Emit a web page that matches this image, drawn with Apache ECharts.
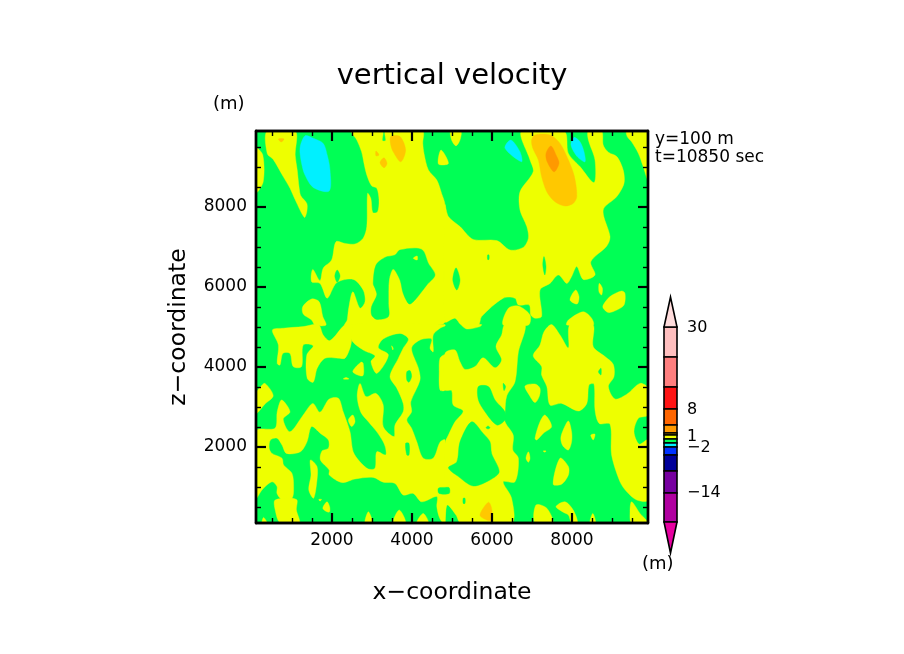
<!DOCTYPE html>
<html>
<head>
<meta charset="utf-8">
<style>html,body{margin:0;padding:0;background:#fff}#c{width:904px;height:654px}</style>
<script src="https://cdn.jsdelivr.net/npm/echarts@6/dist/echarts.min.js"></script>
</head>
<body>
<div id="c"></div>
<script>
// contour regions: each is a ring of [x, z] in metres
const yellowAreas = [
 [[100,9470],[270,9300],[280,8630],[100,8360]],
 [[380,9900],[380,9340],[530,9190],[780,8760],[950,8470],[1080,8180],[1310,7740],[1370,7880],[1370,8090],[1220,8280],[1180,8470],[1130,8930],[1080,9300],[1080,9900]],
 [[2490,9900],[2620,9675],[2740,9380],[2800,9090],[2870,8800],[2990,8530],[3120,8470],[3175,8175],[3140,7880],[3020,7860],[2970,8220],[2890,8340],[2870,7510],[2780,7220],[2575,7075],[2325,7090],[2100,7130],[1990,6675],[1780,6470],[1700,6160],[1520,6440],[1490,6130],[1700,6090],[1880,5720],[2120,6110],[2530,6190],[2780,5925],[2825,5630],[2700,5470],[2520,5880],[2410,5425],[2380,5175],[2325,5050],[4617,5050],[4825,5133],[4825,8050],[4740,8340],[4620,8675],[4410,8925],[4300,9340],[4270,9590],[4260,9900],[3340,9900],[3340,9660],[3260,9660],[3260,9900]],
 [[1270,5510],[1490,5700],[1680,5630],[1770,5260],[1850,5050],[1575,5050],[1490,5175],[1280,5325]],
 [[4725,9425],[4910,9090],[4660,9075]],
 [[4825,8050],[4910,7760],[5200,7510],[5530,7190],[6120,7160],[6450,6925],[6780,6990],[6910,7220],[6870,7510],[6700,7925],[6700,8380],[7030,8880],[6950,9175],[6740,9900],[7800,9900],[7910,9340],[8200,9010],[8550,8610],[8575,9175],[8410,9675],[8410,9900],[8740,9900],[8780,9550],[8910,9370],[9120,9260],[9280,8925],[9300,8590],[9120,8260],[8780,7925],[8950,7260],[8870,7025],[8470,6630],[8575,6300],[8280,6190],[8120,6510],[7990,6260],[7870,6090],[7660,6300],[7450,6090],[7200,5925],[7240,5260],[7075,5220],[6970,5300],[6930,5550],[6660,5550],[6575,5720],[6280,5720],[5740,5260],[5660,5050],[5240,5050],[5075,5220],[4825,5133]],
 [[6410,5470],[6660,5525],[6950,5300],[6910,5050],[6280,5050]],
 [[4970,9900],[5220,9900],[5200,9675],[5100,9530],[4990,9675]],
 [[9370,9900],[9900,9900],[9900,8675],[9780,9010],[9660,9340],[9490,9630],[9380,9760]],
 [[7950,5675],[8090,5925],[8175,5760],[8130,5575]],
 [[8680,6090],[8760,5970],[8740,5800],[8675,5880]],
 [[8780,5550],[8950,5760],[9240,5900],[9325,5840],[9300,5550],[9120,5425],[8910,5360],[8780,5470]],
 [[7910,5175],[8280,5380],[8490,5220],[8530,5050],[7870,5050]],
 [[2490,5060],[2490,4675],[2780,4425],[3075,4280],[2975,4130],[3120,3840],[3410,4300],[3160,4480],[3280,4700],[3700,4840],[3910,4700],[3780,4470],[3660,4220],[3450,3760],[3620,3470],[3780,3090],[3780,2880],[3575,2550],[3550,2260],[3280,2510],[3280,3050],[3100,3340],[2850,3260],[2700,3590],[2630,3260],[2720,2870],[2910,2630],[3120,2380],[3280,2130],[3340,1970],[3340,1800],[3120,1880],[3075,1470],[2910,1450],[2700,1630],[2530,1880],[2450,2380],[2280,2880],[2160,3220],[1930,3200],[1700,2870],[1520,3090],[1280,2800],[950,2380],[780,2700],[950,2880],[740,3175],[630,2880],[575,2470],[100,2400],[100,720],[250,925],[500,1130],[625,1010],[625,840],[750,690],[1000,720],[1040,1010],[1000,1340],[790,1550],[750,1720],[500,1840],[430,1970],[460,2175],[625,2220],[750,2050],[860,1840],[1210,1880],[1375,2130],[1490,2510],[1710,2340],[1910,2175],[1910,1970],[1750,1900],[1710,1675],[1930,1425],[1930,1300],[2250,1110],[2575,1200],[3030,1240],[3280,1120],[3575,1090],[3780,800],[4030,840],[4240,630],[4620,760],[4620,510],[4675,260],[4770,100],[4825,100],[4825,2175],[4700,2120],[4530,1720],[4280,1720],[4120,2130],[3990,2470],[3870,2675],[3990,2880],[3970,3130],[4200,3675],[4160,3970],[3990,4470],[4200,4675],[4490,4700],[4450,4470],[4530,4380],[4530,4800],[4700,4970],[4825,5025],[4825,5060]],
 [[510,4925],[780,4970],[1280,5010],[1660,5060],[1780,4800],[1950,4660],[2325,5060],[2490,5060],[2490,4675],[2450,4470],[2325,4220],[2160,4220],[1825,4220],[1630,3970],[1530,3620],[1380,3720],[1370,4300],[1530,4530],[1280,4550],[1240,4010],[1030,4010],[950,4340],[770,4340],[700,4050],[630,4090],[660,4550]],
 [[100,3340],[220,3510],[325,3590],[530,3280],[325,3075],[100,2840]],
 [[4700,4220],[4825,4300],[4825,3425],[4700,3425],[4680,3880]],
 [[4825,4340],[5075,4425],[5200,4130],[5325,3940],[5575,4010],[5780,4230],[6075,3980],[6240,4175],[6100,4510],[6240,4800],[6325,5060],[6825,5060],[6660,4380],[6575,3630],[6370,3280],[6325,2880],[6325,2630],[6530,2300],[6520,1925],[6660,1720],[6575,1130],[6280,1130],[6490,720],[6490,100],[5220,100],[5100,300],[4880,550],[4825,100],[4825,2090],[4910,2300],[5075,2630],[5280,2900],[5030,3050],[4990,3410],[4825,3425]],
 [[7030,4280],[7200,4550],[7300,4880],[7490,5060],[7700,4800],[7910,4480],[7950,5060],[8520,5060],[8530,4510],[8825,4260],[9030,4070],[9050,3760],[8910,3510],[9075,3200],[9370,3320],[9700,3590],[9900,3470],[9900,2800],[9660,2720],[9550,2380],[9680,2070],[9900,2175],[9900,675],[9620,675],[9370,880],[9200,1130],[8990,1800],[8950,2570],[8680,2590],[8575,2925],[8550,3570],[8425,3550],[8370,3090],[8160,2900],[7740,3090],[7450,3050],[7370,3510],[7240,3800],[7240,4010]],
 [[5240,5060],[5370,4950],[5700,5010],[5740,5060]]
];
const greenIslands = [
 [[3030,6090],[3100,6550],[3325,6740],[3575,6800],[3700,6925],[4240,6940],[4410,6590],[4575,6300],[4370,6050],[4075,5675],[3930,5575],[3780,5840],[3700,6175],[3530,6450],[3425,6175],[3410,5590],[3410,5260],[3120,5190],[2990,5300],[2990,5510],[3120,5800],[3075,5970]],
 [[2130,6425],[2200,6275],[2130,6120],[2070,6275]],
 [[7300,6760],[7350,6510],[7320,6300],[7270,6550]],
 [[5100,6480],[5200,6175],[5120,5925],[5020,6175]],
 [[5890,6800],[5925,6800],[5925,6690],[5890,6690]],
 [[3870,3880],[3950,3910],[3990,3760],[3925,3620],[3870,3675]],
 [[3840,2090],[3925,2090],[3925,1800],[3870,1800]],
 [[4660,970],[4825,990],[4930,980],[4930,840],[4675,840]],
 [[5490,2630],[5780,2340],[5950,2130],[5990,1840],[6180,1380],[5950,1175],[5530,1025],[5160,1260],[4910,1480],[5120,1630],[5200,2130]],
 [[5660,3510],[5910,3510],[6075,3175],[6325,2880],[6325,2675],[6120,2550],[5825,2880],[5660,3175]],
 [[6280,3590],[6340,3510],[6300,3410]],
 [[5850,2480],[5900,2525],[5950,2480],[5900,2450]],
 [[5280,720],[5325,720],[5325,590],[5280,590]],
 [[8660,3880],[8725,3970],[8725,3800]]
];
const yellowSpots = [
 [[4030,6720],[4130,6775],[4130,6675]],
 [[2520,3880],[2720,4120],[2780,4090],[2770,3780]],
 [[2280,3700],[2425,3700],[2350,3740]],
 [[2410,2675],[2520,2800],[2575,2630],[2490,2510]],
 [[3490,4530],[3530,4470],[3520,4425]],
 [[1460,1675],[1625,1510],[1625,1175],[1540,720],[1420,925],[1475,1300]],
 [[1670,690],[1740,690],[1700,650]],
 [[1770,470],[1875,630],[1940,510],[1940,380],[1875,380]],
 [[250,100],[290,240],[375,100]],
 [[580,675],[1110,690],[1110,425],[1180,100],[710,100],[580,425]],
 [[2825,100],[2910,380],[3010,100]],
 [[3530,100],[3680,425],[3840,100]],
 [[4120,100],[4280,340],[4410,100]],
 [[6825,3525],[7075,3575],[7200,3470],[7180,3260],[7075,3110],[6930,3300]],
 [[7075,2220],[7200,2630],[7325,2800],[7490,2510],[7280,2340],[7120,2175]],
 [[7720,2220],[7780,2425],[7910,2650],[7990,2380],[7990,2130],[7910,1925],[7770,2030]],
 [[8470,2300],[8575,2320],[8530,2175]],
 [[7280,1900],[7350,1900],[7320,1870]],
 [[6850,1720],[6910,1880],[6950,1720],[6910,1620]],
 [[7530,1070],[7700,1720],[7910,1510],[7910,1300],[7740,1070]],
 [[7075,100],[7100,550],[7370,470],[7520,100]],
 [[7600,510],[7825,630],[8030,425],[8140,100],[7990,100],[7910,300],[7780,370]],
 [[8450,100],[8520,340],[8590,100]],
 [[9450,380],[9490,630],[9700,340],[9900,100],[9490,100]]
];
const cyanAreas = [
 [[1200,9470],[1325,9780],[1530,9720],[1780,9590],[1880,9300],[1950,8925],[1930,8400],[1530,8490],[1325,8800],[1240,9090]],
 [[6470,9675],[6700,9380],[6740,9130],[6325,9470]],
 [[7975,9550],[8050,9740],[8200,9630],[8300,9380],[8325,9130],[8130,9260]]
];
const lightOrangeAreas = [
 [[660,9700],[800,9700],[730,9625]],
 [[3470,9760],[3700,9760],[3840,9425],[3720,9130],[3530,9380],[3470,9550]],
 [[3100,9400],[3175,9300],[3100,9280]],
 [[3300,9230],[3375,9090],[3300,8980],[3200,9110]],
 [[6990,9675],[7075,9800],[7450,9800],[7700,9590],[7910,9175],[8060,8760],[8120,8260],[8030,8090],[7825,8025],[7575,8130],[7370,8380],[7240,8760],[7160,9175],[7020,9470]],
 [[5700,300],[5910,620],[5990,470],[5990,175],[5870,175]]
];
const orangeAreas = [
 [[7475,9525],[7620,9260],[7675,9090],[7550,8880],[7380,9130],[7350,9340]]
];
// axis ticks
const majorTicks = [2000,4000,6000,8000];
const minorTicks = [500,1000,1500,2500,3000,3500,4500,5000,5500,6500,7000,7500,8500,9000,9500];
// colour bar: band edges along the bar, top to bottom, with their colours
const barEdges = [30,60,90,112,128,136,138,142,146,150,158,174,196,225];
const barColors = ['#ffbfbf','#ff7f7f','#ff1414','#ff6600','#ff9900','#ffc800','#eeff00','#00ff55','#00f0ff','#0033ff','#000099','#7700a0','#b000a0'];
const barLabelPositions = [31,113,140,151,196];
const barLabels = ['30','8','1','\u22122','\u221214'];

const font = 'DejaVu Sans';
const regionSeries = (name, layer, color) => ({
  type:'custom', name, xAxisIndex:0, yAxisIndex:0, silent:true, animation:false, z:2, clip:true,
  data: layer.map((_, i) => [i, 0]),
  renderItem: (params, api) => ({
    type:'polygon',
    shape:{points: layer[params.dataIndex].map(p => api.coord(p)), smooth:0.3},
    style:{fill:color, stroke:color, lineWidth:0.4}
  })
});
const frameAxis = (dim, pos, vals, len, w, extra) => Object.assign({
  type:'value', min:100, max:9900, position:pos, gridIndex:0, z:10,
  splitLine:{show:false},
  axisLine:{show:true, onZero:false, lineStyle:{color:'#000', width:2.4}},
  axisTick:{show:true, inside:true, length:len, customValues:vals, lineStyle:{color:'#000', width:w}},
  axisLabel:{show:false}
}, extra || {});
const tickLabels = {show:true, customValues:majorTicks, formatter:v => String(v), color:'#000', fontFamily:font, fontSize:17};

const chart = echarts.init(document.getElementById('c'), null, {renderer:'canvas'});
chart.setOption({
  animation:false,
  backgroundColor:'#fff',
  title:{text:'vertical velocity', left:'center', top:57, textStyle:{fontFamily:font, fontWeight:'normal', fontSize:29, color:'#000'}},
  grid:[
    {left:256, top:131, width:392, height:392, show:true, backgroundColor:'#00ff55', borderWidth:0},
    {left:664, top:297, width:13, height:256}
  ],
  xAxis:[
    frameAxis('x','bottom',majorTicks,10,2.2,{axisLabel:Object.assign({margin:9},tickLabels), name:'x\u2212coordinate', nameLocation:'middle', nameGap:58, nameTextStyle:{fontFamily:font, fontSize:23.5, color:'#000'}}),
    frameAxis('x','bottom',minorTicks,5,1.4),
    frameAxis('x','top',majorTicks,10,2.2),
    frameAxis('x','top',minorTicks,5,1.4),
    {type:'value', gridIndex:1, min:0, max:1, show:false}
  ],
  yAxis:[
    frameAxis('y','left',majorTicks,10,2.2,{axisLabel:Object.assign({margin:9},tickLabels), name:'z\u2212coordinate', nameLocation:'middle', nameGap:65, nameTextStyle:{fontFamily:font, fontSize:23.5, color:'#000'}}),
    frameAxis('y','left',minorTicks,5,1.4),
    frameAxis('y','right',majorTicks,10,2.2),
    frameAxis('y','right',minorTicks,5,1.4),
    {type:'value', gridIndex:1, min:0, max:256, inverse:true, position:'right',
     axisLine:{show:false}, axisTick:{show:false}, splitLine:{show:false},
     axisLabel:{show:true, margin:10, color:'#000', fontFamily:font, fontSize:16, customValues:barLabelPositions,
       formatter:v => barLabels[barLabelPositions.indexOf(v)]}}
  ],
  series:[
    regionSeries('yellow', yellowAreas, '#eeff00'),
    regionSeries('green islands', greenIslands, '#00ff55'),
    regionSeries('yellow spots', yellowSpots, '#eeff00'),
    regionSeries('cyan', cyanAreas, '#00f0ff'),
    regionSeries('light orange', lightOrangeAreas, '#ffc800'),
    regionSeries('orange', orangeAreas, '#ff9900'),
    {type:'custom', name:'colour bar', xAxisIndex:4, yAxisIndex:4, silent:true, animation:false, z:3,
     data: barColors.map((_, i) => [i, 0]),
     renderItem:(params, api) => {
       const i = params.dataIndex;
       const a = api.coord([0, barEdges[i]]), b = api.coord([1, barEdges[i+1]]);
       return {type:'rect', shape:{x:a[0], y:a[1], width:b[0]-a[0], height:b[1]-a[1]},
               style:{fill:barColors[i], stroke:'#000', lineWidth:1.6}};
     }},
    {type:'custom', name:'colour bar ends', xAxisIndex:4, yAxisIndex:4, silent:true, animation:false, z:3,
     data:[[0,0],[1,0]],
     renderItem:(params, api) => {
       const top = params.dataIndex === 0;
       const base = top ? barEdges[0] : barEdges[barEdges.length-1];
       const tip = top ? 0 : 256;
       return {type:'polygon', shape:{points:[api.coord([0,base]), api.coord([1,base]), api.coord([0.5,tip])]},
               style:{fill: top ? '#ffdcdc' : '#e600a0', stroke:'#000', lineWidth:1.6}};
     }}
  ],
  graphic:[
    {type:'text', left:213, top:95, style:{text:'(m)', fontFamily:font, fontSize:18, fill:'#000'}},
    {type:'text', left:642, top:555, style:{text:'(m)', fontFamily:font, fontSize:18, fill:'#000'}},
    {type:'text', left:655, top:131, style:{text:'y=100 m', fontFamily:font, fontSize:17, fill:'#000'}},
    {type:'text', left:655, top:149, style:{text:'t=10850 sec', fontFamily:font, fontSize:17, fill:'#000'}}
  ]
});
</script>
</body>
</html>
